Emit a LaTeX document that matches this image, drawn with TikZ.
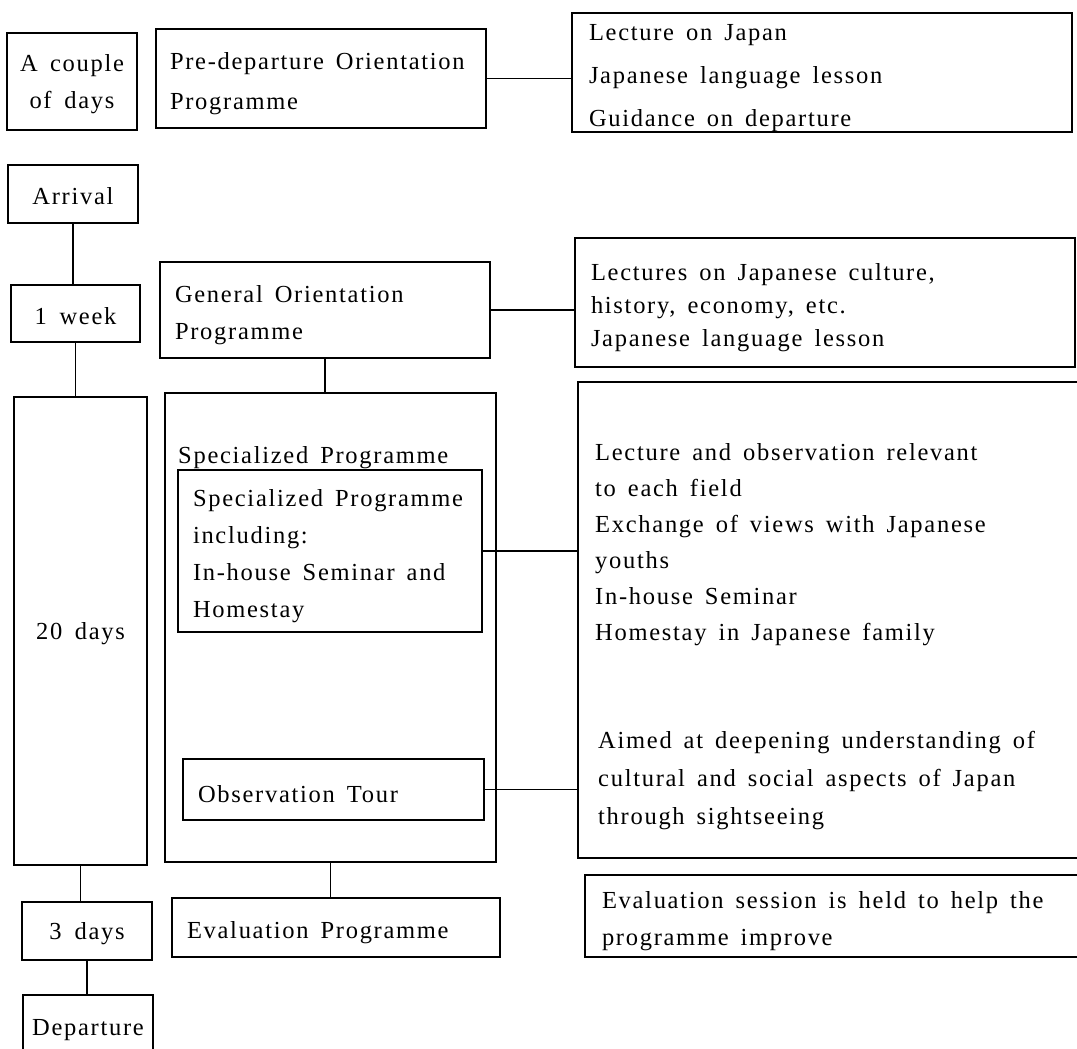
\documentclass[tikz,border=0pt]{standalone}
\usepackage{fontspec}
\setmainfont{Liberation Serif}[LetterSpace=7]
\usepackage{tikz}

\newcommand{\fs}[1]{\fontsize{24.5}{#1}\selectfont}
\newcommand{\wide}{\spaceskip=12pt plus 2pt minus 1pt}

\tikzset{
  stage/.style={draw, line width=1.3pt, align=center, text width=120, inner sep=0pt, font=\fs{37},
    text height=22pt, execute at begin node=\wide},
  prog/.style={draw, line width=1.3pt, align=left, inner xsep=15pt, inner ysep=0pt, font=\fs{37},
    text height=26.5pt, execute at begin node=\wide},
  note/.style={align=left, inner sep=0pt, anchor=base west, font=\fs{36}, execute at begin node=\wide},
  link/.style={line width=1.3pt}
}

\begin{document}
\begin{tikzpicture}[x=1pt,y=-1pt]
\useasboundingbox (0,0) rectangle (1077,1049);
\clip (0,0) rectangle (1077,1049);

% time line on the left
\node[stage, minimum width=130, minimum height=97] (cpl) at (72,81.5) {A couple\\of days};
\node[stage, minimum width=130, minimum height=58] (arr) at (73,194) {Arrival};
\node[stage, minimum width=129, minimum height=57] (week) at (75.5,313.5) {1 week};
\node[stage, minimum width=133, minimum height=468] (days20) at (80.5,631) {20 days};
\node[stage, minimum width=130, minimum height=58] (d3) at (87,931) {3 days};
\node[stage, minimum width=130, minimum height=65] (dep) at (88,1027.5) {Departure};

% programmes
\node[prog, font=\fs{40}, text width=302, inner xsep=14pt, minimum height=99] (pre) at (321,78.5) {Pre-departure~Orientation\\Programme};
\node[prog, text width=300, minimum height=96] (gen) at (325,310) {General Orientation\\Programme};
\node[draw, line width=1.3pt, minimum width=331, minimum height=469] (spec) at (330.5,627.5) {};
\node[note, font=\fs{37}] (spectitle) at (178,463) {Specialized~Programme};
\node[prog, text width=274, minimum height=162] (inner) at (330,551) {Specialized~Programme\\including:\\In-house~Seminar~and\\Homestay};
\node[prog, text width=271, minimum height=61] (tour) at (333.5,789.5) {Observation Tour};
\node[prog, text width=298, minimum height=59] (eval) at (336,927.5) {Evaluation Programme};

% contents
\node[prog, font=\fs{43}, inner xsep=17pt, text width=466, minimum height=119] (lec) at (822,72.5) {Lecture on Japan\\Japanese language lesson\\Guidance on departure};
\node[prog, font=\fs{33}, inner xsep=16pt, text width=468, minimum height=129] (genr) at (825,302.5) {Lectures on Japanese culture,\\history, economy, etc.\\Japanese language lesson};
\node[draw, line width=1.3pt, minimum width=512, minimum height=476] (specr) at (834,620) {};
\node[note] (spectxt) at (595,640) {Lecture and observation relevant\\to each field\\Exchange of views with Japanese\\youths\\In-house Seminar\\Homestay in Japanese family};
\node[note, font=\fs{38}] (tourtxt) at (598,824) {Aimed at deepening understanding of\\cultural and social aspects of Japan\\through sightseeing};
\node[prog, inner xsep=17pt, text width=471, minimum height=82] (evalr) at (837.5,916) {Evaluation~session~is~held~to~help~the\\programme improve};

% connectors
\draw[link] (pre.east) -- (pre.east -| lec.west);
\draw[link] (gen.east) -- (gen.east -| genr.west);
\draw[link] (inner.east) -- (inner.east -| specr.west);
\draw[link] (tour.east) -- (tour.east -| specr.west);
\draw[link] (gen.south) -- (gen.south |- spec.north);
\draw[link] (spec.south) -- (spec.south |- eval.north);
\draw[link] (arr.south) -- (arr.south |- week.north);
\draw[link] (week.south) -- (week.south |- days20.north);
\draw[link] (days20.south) -- (days20.south |- d3.north);
\draw[link] (d3.south) -- (d3.south |- dep.north);
\end{tikzpicture}
\end{document}
